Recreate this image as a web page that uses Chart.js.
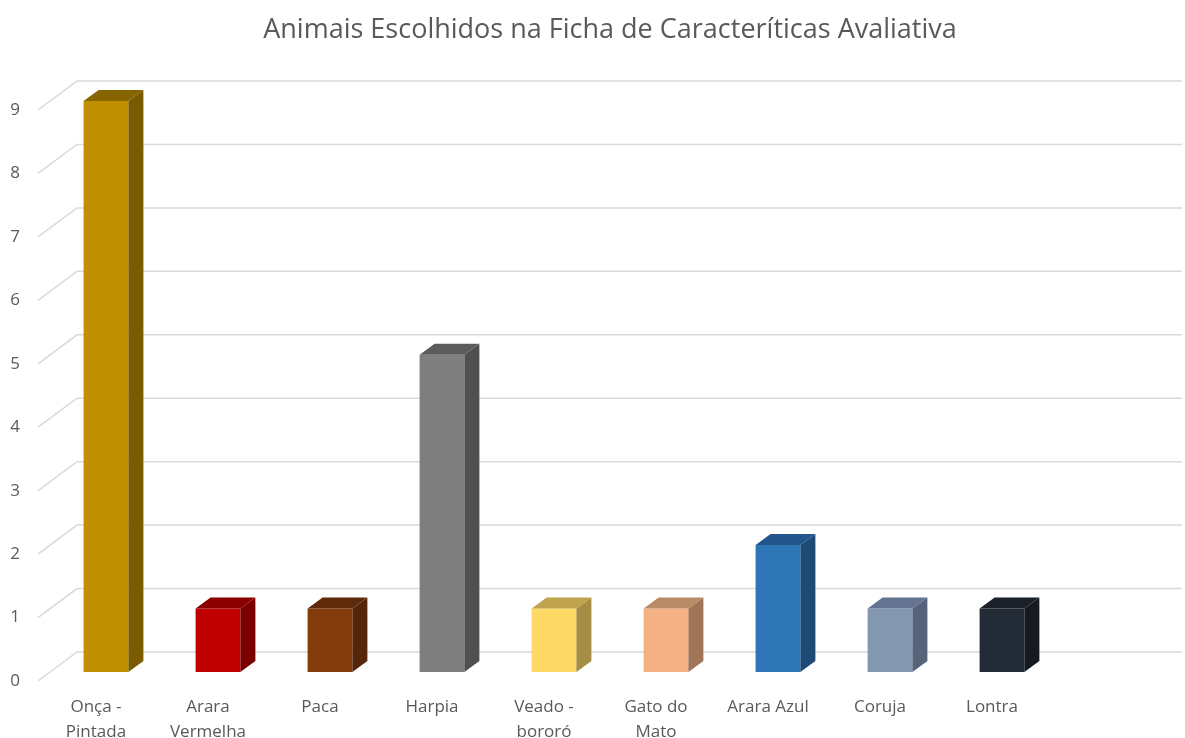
<!DOCTYPE html>
<html>
<head>
<meta charset="utf-8">
<script src="https://cdn.jsdelivr.net/npm/chart.js@4/dist/chart.umd.min.js"></script>
<style>
  html, body { margin: 0; background: #fff; }
</style>
</head>
<body>
<canvas id="chart" width="1185" height="738"></canvas>
<script>
// data (last slot is an empty category, as in the source sheet)
const animals = [['Onça -', 'Pintada'], ['Arara', 'Vermelha'], 'Paca', 'Harpia', ['Veado -', 'bororó'], ['Gato do', 'Mato'], 'Arara Azul', 'Coruja', 'Lontra', ''];
const votes = [9, 1, 1, 5, 1, 1, 2, 1, 1, null];
const yTicks = [0, 1, 2, 3, 4, 5, 6, 7, 8, 9];

const frontColors = ['#BF8F00', '#C00000', '#843C0C', '#7F7F7F', '#FFD966', '#F4B183', '#2E75B6', '#8497B0', '#222A35', '#fff'];
const sideColors  = ['#7A5B00', '#7A0000', '#55260A', '#505050', '#A68D44', '#A07456', '#1D4B75', '#56637A', '#161B22', '#fff'];
const topColors   = ['#866400', '#8A0000', '#5E2A0A', '#5C5C5C', '#BFA34E', '#B98A66', '#22558A', '#657490', '#1B2029', '#fff'];

const textColor = '#595959';
const gridColor = '#D9D9D9';

// fake 3D: back wall gridlines + side/top faces of the bars
const box3d = {
  id: 'box3d',
  beforeDatasetsDraw(chart) {
    const ctx = chart.ctx;
    const ys = chart.scales.y;
    ctx.save();
    ctx.strokeStyle = gridColor;
    ctx.lineWidth = 1.5;
    yTicks.forEach(v => {
      const py = ys.getPixelForValue(v);
      ctx.beginPath();
      ctx.moveTo(38, py + 9);
      ctx.lineTo(77, py - 20);
      ctx.lineTo(1182, py - 20);
      ctx.stroke();
    });
    ctx.restore();
  },
  afterDatasetsDraw(chart) {
    const ctx = chart.ctx;
    const meta = chart.getDatasetMeta(0);
    const dx = 15, dy = -11;
    ctx.save();
    meta.data.forEach((bar, i) => {
      if (votes[i] == null) return;
      const p = bar.getProps(['x', 'y', 'base', 'width'], true);
      const l = p.x - p.width / 2, r = p.x + p.width / 2;
      // side
      ctx.fillStyle = sideColors[i];
      ctx.beginPath();
      ctx.moveTo(r, p.y);
      ctx.lineTo(r + dx, p.y + dy);
      ctx.lineTo(r + dx, p.base + dy);
      ctx.lineTo(r, p.base);
      ctx.closePath();
      ctx.fill();
      // top
      ctx.fillStyle = topColors[i];
      ctx.beginPath();
      ctx.moveTo(l, p.y);
      ctx.lineTo(l + dx, p.y + dy);
      ctx.lineTo(r + dx, p.y + dy);
      ctx.lineTo(r, p.y);
      ctx.closePath();
      ctx.fill();
    });
    ctx.restore();
  }
};

new Chart(document.getElementById('chart'), {
  type: 'bar',
  data: {
    labels: animals,
    datasets: [{
      data: votes,
      backgroundColor: frontColors,
      borderWidth: 0,
      categoryPercentage: 1,
      barPercentage: 0.4
    }]
  },
  options: {
    responsive: false,
    animation: false,
    layout: { padding: { left: 0, right: 15, top: 0, bottom: 0 } },
    plugins: {
      legend: { display: false },
      tooltip: { enabled: false },
      title: {
        display: true,
        text: 'Animais Escolhidos na Ficha de Caracteríticas Avaliativa',
        color: textColor,
        fullSize: false,
        font: { family: 'Open Sans', size: 27, weight: 'normal' },
        padding: { top: 14, bottom: 54.6 }
      }
    },
    scales: {
      x: {
        grid: { display: false },
        border: { display: false },
        ticks: {
          color: textColor,
          font: { family: 'Open Sans', size: 17, lineHeight: 1.5 },
          labelOffset: -10,
          padding: 14,
          maxRotation: 0,
          autoSkip: false
        },
        afterFit(scale) { scale.height = 66; }
      },
      y: {
        min: 0,
        max: 9,
        grid: { display: false },
        border: { display: false },
        ticks: {
          stepSize: 1,
          color: textColor,
          font: { family: 'Open Sans', size: 17 },
          labelOffset: 9,
          padding: 22
        },
        afterFit(scale) { scale.width = 50; }
      }
    }
  },
  plugins: [box3d]
});
</script>
</body>
</html>
